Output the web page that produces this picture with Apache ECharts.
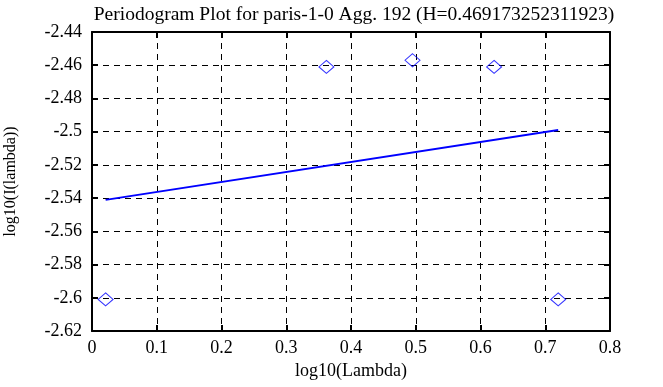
<!DOCTYPE html>
<html>
<head>
<meta charset="utf-8">
<script src="https://cdn.jsdelivr.net/npm/echarts@6/dist/echarts.min.js"></script>
<style>
html,body{margin:0;padding:0;background:#fff;}
#c{width:663px;height:387px;}
</style>
</head>
<body>
<div id="c"></div>
<script>
const titleText = 'Periodogram Plot for paris-1-0 Agg. 192 (H=0.469173252311923)';
const xName = 'log10(Lambda)';
const yName = 'log10(I(lambda))';
const pointX = [0.021, 0.362, 0.495, 0.621, 0.720];
const pointY = [-2.601, -2.461, -2.457, -2.461, -2.601];
const fitX = [0.021, 0.720];
const fitY = [-2.541, -2.499];

const font = 'Liberation Serif, Times New Roman, serif';
const chart = echarts.init(document.getElementById('c'), null, {renderer: 'canvas'});
const gridLine = {show: true, lineStyle: {color: '#000', type: [6, 5], width: 1}};
const axisLine = {show: true, onZero: false, lineStyle: {color: '#000', width: 2}};
const tickIn = {show: true, inside: true, length: 6, lineStyle: {color: '#000', width: 2}};
chart.setOption({
  animation: false,
  backgroundColor: '#fff',
  title: {
    text: titleText, left: 349, textAlign: 'center', top: 0,
    textStyle: {fontFamily: font, fontSize: 19.5, fontWeight: 'normal', color: '#000'}
  },
  grid: {left: 92, right: 53, top: 32, bottom: 56, containLabel: false, outerBoundsMode: 'none'},
  xAxis: [{
    type: 'value', min: 0, max: 0.8, interval: 0.1,
    name: xName, nameLocation: 'middle', nameGap: 29,
    nameTextStyle: {fontFamily: font, fontSize: 18, color: '#000'},
    axisLine: axisLine, axisTick: tickIn, splitLine: gridLine,
    axisLabel: {fontFamily: font, fontSize: 18, color: '#000', margin: 8,
      formatter: v => String(Math.round(v * 10) / 10)}
  }, {
    type: 'value', min: 0, max: 0.8, interval: 0.1, position: 'top',
    axisLine: axisLine, axisTick: tickIn, splitLine: {show: false}, axisLabel: {show: false}
  }],
  yAxis: [{
    type: 'value', min: -2.62, max: -2.44, interval: 0.02,
    name: yName, nameLocation: 'middle', nameGap: 73, nameRotate: 90,
    nameTextStyle: {fontFamily: font, fontSize: 16, color: '#000'},
    axisLine: axisLine, axisTick: tickIn, splitLine: gridLine,
    axisLabel: {fontFamily: font, fontSize: 18, color: '#000', margin: 10,
      formatter: v => String(Math.round(v * 100) / 100)}
  }, {
    type: 'value', min: -2.62, max: -2.44, interval: 0.02, position: 'right',
    axisLine: axisLine, axisTick: tickIn, splitLine: {show: false}, axisLabel: {show: false}
  }],
  series: [{
    type: 'scatter',
    data: pointX.map((x, i) => [x, pointY[i]]),
    symbol: 'diamond', symbolSize: [15, 13],
    itemStyle: {color: 'transparent', borderColor: '#0000ff', borderWidth: 1}
  }, {
    type: 'line',
    data: fitX.map((x, i) => [x, fitY[i]]),
    showSymbol: false, symbol: 'none',
    lineStyle: {color: '#0000ff', width: 1.8}
  }]
});
</script>
</body>
</html>
